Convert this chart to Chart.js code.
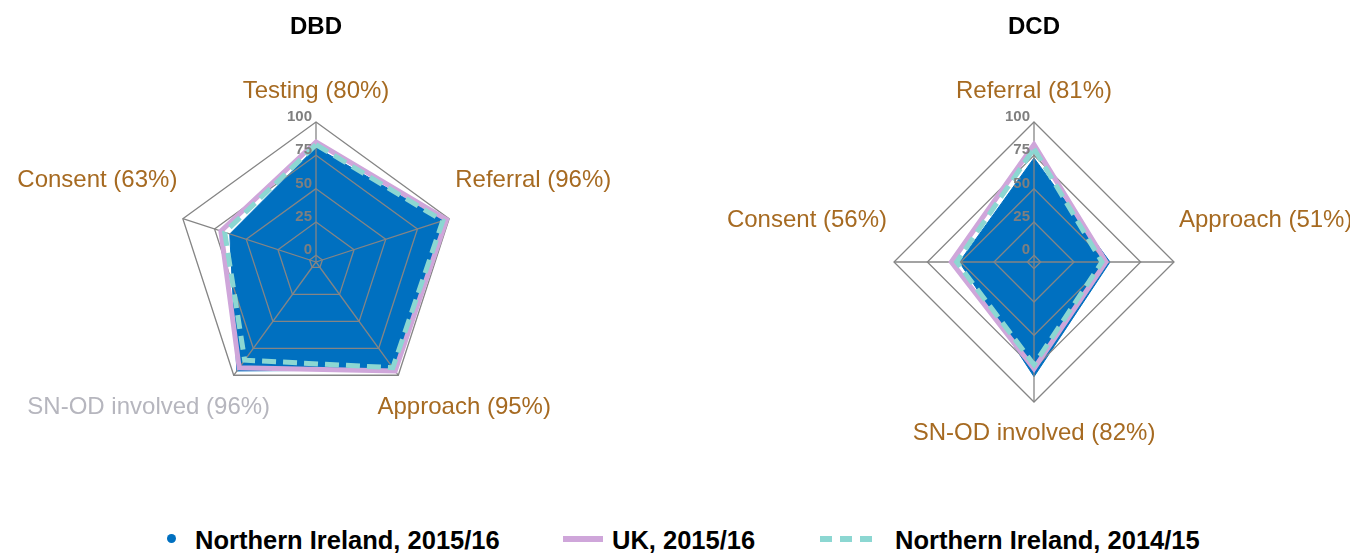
<!DOCTYPE html>
<html>
<head>
<meta charset="utf-8">
<script src="https://cdn.jsdelivr.net/npm/chart.js@4.4.0/dist/chart.umd.min.js"></script>
<style>
    body { margin: 0; background: #fff; width: 1350px; height: 553px; overflow: hidden; position: relative; font-family: "Liberation Sans", Arial, sans-serif; }
    canvas { position: absolute; top: 0; }
    .legend-text { position: absolute; top: 525px; font-weight: bold; font-size: 25.5px; line-height: 30px; color: #000; white-space: nowrap; }
    .legend-mark { position: absolute; }
</style>
</head>
<body>
<canvas id="dbdChart" width="632" height="524" style="left:0px"></canvas>
<canvas id="dcdChart" width="632" height="524" style="left:718px"></canvas>
<div id="legend"></div>
<script>
// series
const seriesNames = ['Northern Ireland, 2015/16', 'UK, 2015/16', 'Northern Ireland, 2014/15'];

// DBD
const dbdCategories = ['Testing (80%)', 'Referral (96%)', 'Approach (95%)', 'SN-OD involved (96%)', 'Consent (63%)'];
const dbdNI1516 = [81, 96, 95, 96, 63];
const dbdUK1516 = [85, 98, 96, 93, 70];
const dbdNI1415 = [83, 95, 93, 86, 67];

// DCD
const dcdCategories = ['Referral (81%)', 'Approach (51%)', 'SN-OD involved (82%)', 'Consent (56%)'];
const dcdNI1516 = [73, 52, 81, 51];
const dcdUK1516 = [83, 49, 75, 57];
const dcdNI1415 = [80, 46, 72, 53];

// axis
const tickValues = [0, 25, 50, 75, 100];
const scaleMin = -5;
const scaleMax = 100;

const blue = '#0070C0';
const lilac = '#CFA6DA';
const teal = '#8CD7D2';
const brown = '#A66A21';

// grid over the blue area, tick numbers on top, labels and title outside
const excelRadar = {
    id: 'excelRadar',
    afterDatasetDraw(chart, args) {
        if (args.index !== 0) return;
        const r = chart.scales.r;
        const ctx = chart.ctx;
        const n = chart.data.labels.length;
        ctx.save();
        ctx.strokeStyle = '#858585';
        ctx.lineWidth = 1.3;
        tickValues.forEach(v => {
            const d = r.getDistanceFromCenterForValue(v);
            ctx.beginPath();
            for (let i = 0; i < n; i++) {
                const p = r.getPointPosition(i, d);
                if (i === 0) ctx.moveTo(p.x, p.y); else ctx.lineTo(p.x, p.y);
            }
            ctx.closePath();
            ctx.stroke();
        });
        const outer = r.getDistanceFromCenterForValue(scaleMax);
        for (let i = 0; i < n; i++) {
            const p = r.getPointPosition(i, outer);
            ctx.beginPath();
            ctx.moveTo(r.xCenter, r.yCenter);
            ctx.lineTo(p.x, p.y);
            ctx.stroke();
        }
        ctx.restore();
    },
    afterDatasetsDraw(chart) {
        const r = chart.scales.r;
        const ctx = chart.ctx;
        ctx.save();
        ctx.font = 'bold 15px "Liberation Sans", Arial, sans-serif';
        ctx.fillStyle = '#7F7F7F';
        ctx.textAlign = 'right';
        ctx.textBaseline = 'alphabetic';
        tickValues.forEach(v => {
            const y = r.yCenter - r.getDistanceFromCenterForValue(v);
            ctx.fillText(String(v), r.xCenter - 4, y - 1);
        });
        ctx.restore();
    },
    afterDraw(chart, args, opts) {
        const r = chart.scales.r;
        const ctx = chart.ctx;
        ctx.save();
        ctx.textAlign = 'center';
        ctx.textBaseline = 'middle';
        ctx.font = 'bold 24px "Liberation Sans", Arial, sans-serif';
        ctx.fillStyle = '#000';
        ctx.fillText(opts.title, r.xCenter, 27);

        ctx.font = '24px "Liberation Sans", Arial, sans-serif';
        const D = r.drawingArea + 31;
        chart.data.labels.forEach((lab, i) => {
            const p = r.getPointPosition(i, D);
            const dx = (p.x - r.xCenter) / D;
            const dy = (p.y - r.yCenter) / D;
            const w = ctx.measureText(lab).width;
            let x = p.x, y = p.y;
            if (Math.abs(dx) > 0.05) {
                const k = dy > 0.05 ? 0.55 : 0.7;
                x += Math.sign(dx) * k * w / 2;
                y += dy > 0.05 ? 7 : (dy < -0.05 ? -29 : -42);
            }
            ctx.fillStyle = opts.labelColors[i];
            ctx.fillText(lab, x, y);
        });
        ctx.restore();
    }
};

function makeRadar(id, title, labels, ni1516, uk1516, ni1415, labelColors) {
    return new Chart(document.getElementById(id), {
        type: 'radar',
        data: {
            labels: labels,
            datasets: [{
                label: seriesNames[0],
                data: ni1516,
                backgroundColor: blue,
                borderColor: blue,
                borderWidth: 1,
                fill: 'start',
                pointRadius: 0,
                order: 3
            }, {
                label: seriesNames[1],
                data: uk1516,
                borderColor: lilac,
                borderWidth: 5,
                fill: false,
                pointRadius: 0,
                order: 2
            }, {
                label: seriesNames[2],
                data: ni1415,
                borderColor: teal,
                borderWidth: 5,
                borderDash: [14, 7],
                fill: false,
                pointRadius: 0,
                order: 1
            }]
        },
        options: {
            responsive: false,
            animation: false,
            layout: { padding: { left: 176, right: 176, top: 122, bottom: 122 } },
            elements: { line: { tension: 0 } },
            scales: {
                r: {
                    min: scaleMin,
                    max: scaleMax,
                    ticks: { display: false, stepSize: 25 },
                    grid: { display: false },
                    angleLines: { display: false },
                    pointLabels: { display: false }
                }
            },
            plugins: {
                legend: { display: false },
                tooltip: { enabled: false },
                excelRadar: { title: title, labelColors: labelColors }
            }
        },
        plugins: [excelRadar]
    });
}

makeRadar('dbdChart', 'DBD', dbdCategories, dbdNI1516, dbdUK1516, dbdNI1415,
    [brown, brown, brown, '#B6B6BE', brown]);
makeRadar('dcdChart', 'DCD', dcdCategories, dcdNI1516, dcdUK1516, dcdNI1415,
    [brown, brown, brown, brown]);

// legend
const legendItems = [
    { mark: 'left:167px;top:534px;width:9px;height:9px;border-radius:50%;background:' + blue, textLeft: 195 },
    { mark: 'left:563px;top:536px;width:40px;height:6px;background:' + lilac, textLeft: 612 },
    { mark: 'left:820px;top:536px;width:52px;height:6px;background:repeating-linear-gradient(to right,' + teal + ' 0 12px,transparent 12px 20px)', textLeft: 895 }
];
const legend = document.getElementById('legend');
legendItems.forEach((item, i) => {
    const m = document.createElement('div');
    m.className = 'legend-mark';
    m.style.cssText = item.mark;
    legend.appendChild(m);
    const t = document.createElement('div');
    t.className = 'legend-text';
    t.style.left = item.textLeft + 'px';
    t.textContent = seriesNames[i];
    legend.appendChild(t);
});
</script>
</body>
</html>
